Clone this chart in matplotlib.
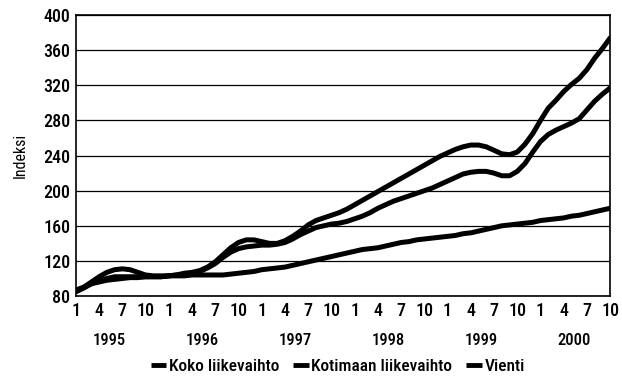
import matplotlib
matplotlib.use("Agg")
import matplotlib.pyplot as plt
import numpy as np

plt.rcParams['font.family'] = ['Roboto Condensed', 'Archivo Narrow', 'PT Sans Narrow',
                               'Liberation Sans Narrow', 'DejaVu Sans']
plt.rcParams['font.weight'] = 'medium'

# Monthly index values, January 1995 - October 2000
koko = [85, 90, 96, 102, 107, 110, 111, 110, 107, 104, 103, 103,
        103, 104, 106, 107, 109, 113, 119, 127, 135, 141, 144, 144,
        142, 140, 140, 143, 148, 154, 161, 166, 169, 172, 175, 179,
        184, 189, 194, 199, 204, 209, 214, 219, 224, 229, 234, 239,
        243, 247, 250, 252, 252, 250, 246, 242, 241, 244, 253, 265,
        280, 294, 303, 313, 321, 328, 338, 351, 362, 374]
kotimaan = [85, 89, 94, 98, 100, 102, 102, 102, 102, 102, 102, 102,
            103, 104, 105, 106, 108, 112, 117, 124, 130, 134, 136, 137,
            138, 138, 139, 141, 145, 150, 154, 158, 160, 162, 163, 165,
            168, 171, 175, 180, 184, 188, 191, 194, 197, 200, 203, 207,
            211, 215, 219, 221, 222, 222, 220, 217, 217, 222, 231, 244,
            256, 264, 269, 273, 277, 282, 292, 302, 310, 317]
vienti = [87, 90, 94, 96, 98, 99, 100, 101, 101, 102, 102, 102,
          103, 103, 103, 104, 104, 104, 104, 104, 105, 106, 107, 108,
          110, 111, 112, 113, 115, 117, 119, 121, 123, 125, 127, 129,
          131, 133, 134, 135, 137, 139, 141, 142, 144, 145, 146, 147,
          148, 149, 151, 152, 154, 156, 158, 160, 161, 162, 163, 164,
          166, 167, 168, 169, 171, 172, 174, 176, 178, 180]

years = [1995, 1996, 1997, 1998, 1999, 2000]
quarter_months = [1, 4, 7, 10]
series_names = ["Koko liikevaihto", "Kotimaan liikevaihto", "Vienti"]

months = np.arange(len(koko))

fig = plt.figure(figsize=(6.22, 3.87), dpi=100)
ax = fig.add_axes([0.122, 0.235, 0.859, 0.726])

for vals, name in zip([koko, kotimaan, vienti], series_names):
    ax.plot(months, vals, color='black', lw=3.6, solid_capstyle='round',
            solid_joinstyle='round', label=name, zorder=3)

ax.set_ylim(80, 400)
ax.set_yticks(np.arange(80, 401, 40))
ax.set_xlim(0, len(koko) - 1)

# month ticks 1, 4, 7, 10 of each year
tick_pos = []
tick_lab = []
for yi, yr in enumerate(years):
    for m in quarter_months:
        idx = yi * 12 + (m - 1)
        if idx < len(koko):
            tick_pos.append(idx)
            tick_lab.append(str(m))
ax.set_xticks(tick_pos)
ax.set_xticklabels(tick_lab)

# year labels below the month labels
for yi, yr in enumerate(years):
    ax.text(yi * 12 + 4.3, -0.13, str(yr), transform=ax.get_xaxis_transform(),
            ha='center', va='top', fontsize=12)

ax.tick_params(axis='both', length=0, labelsize=13, pad=4)
ax.grid(axis='y', color='black', lw=0.9)
ax.set_axisbelow(True)
for s in ax.spines.values():
    s.set_linewidth(1.2)
    s.set_color('black')

ax.set_ylabel("Indeksi", fontsize=11.5, labelpad=11)

leg = fig.legend(loc='lower center', bbox_to_anchor=(0.543, -0.008), ncol=3,
                 frameon=False, fontsize=12.5, handlelength=0.9,
                 handletextpad=0.15, columnspacing=0.8)
for h in leg.get_lines():
    h.set_linewidth(3.5)
    h.set_solid_capstyle('butt')

fig.savefig("out.png", dpi=100)
